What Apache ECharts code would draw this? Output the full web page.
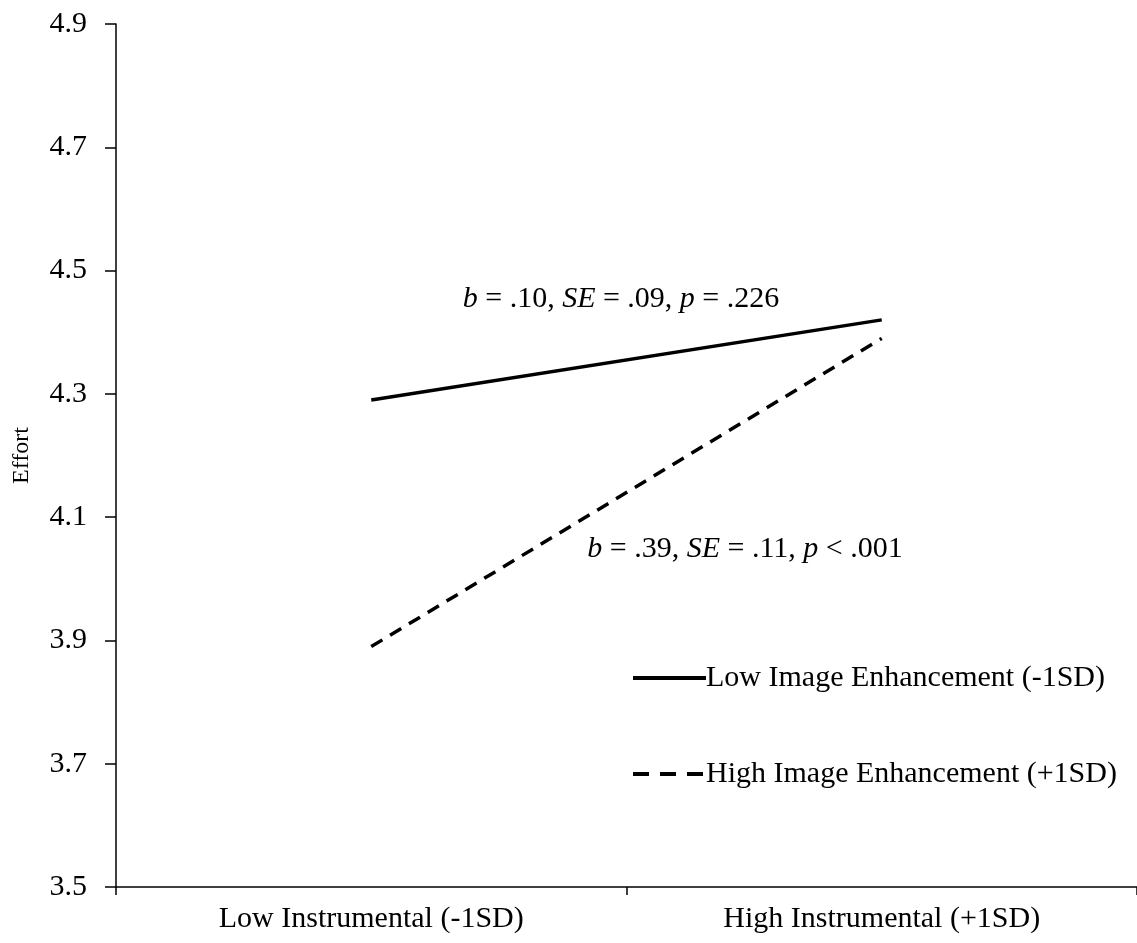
<!DOCTYPE html>
<html>
<head>
<meta charset="utf-8">
<script src="https://cdn.jsdelivr.net/npm/echarts@6/dist/echarts.min.js"></script>
<style>
  html, body { margin: 0; padding: 0; background: #fff; }
  #chart { width: 1137px; height: 943px; }
</style>
</head>
<body>
<div id="chart"></div>
<script>
// data
var categories = ['Low Instrumental (-1SD)', 'High Instrumental (+1SD)']
var lowImage = [4.29, 4.42]
var highImage = [3.89, 4.39]
var seriesNames = ['Low Image Enhancement (-1SD)', 'High Image Enhancement (+1SD)']

var FONT = '"Liberation Serif", "Times New Roman", serif'

var chart = echarts.init(document.getElementById('chart'))

var option = {
  backgroundColor: '#fff',
  animation: false,
  textStyle: { fontFamily: FONT, color: '#000' },
  grid: { left: 116, right: 0, top: 24, bottom: 56, containLabel: false },
  legend: {
    orient: 'vertical',
    left: 631,
    top: 663,
    padding: 0,
    itemWidth: 73,
    itemHeight: 14,
    itemGap: 66,
    itemStyle: { opacity: 0 },
    lineStyle: { width: 4, color: '#000' },
    textStyle: { fontFamily: FONT, fontSize: 30, color: '#000', padding: [0, 0, 0, -5] },
    data: [
      { name: seriesNames[0], lineStyle: { type: 'solid', width: 4, color: '#000' } },
      { name: seriesNames[1], lineStyle: { type: [16, 11], width: 4, color: '#000' } }
    ]
  },
  xAxis: {
    type: 'category',
    data: categories,
    boundaryGap: true,
    axisLine: { lineStyle: { color: '#000', width: 1.5 } },
    axisTick: { show: true, length: 8, lineStyle: { color: '#000', width: 1.5 } },
    axisLabel: { fontFamily: FONT, fontSize: 30, color: '#000', margin: 17 },
    splitLine: { show: false }
  },
  yAxis: {
    type: 'value',
    min: 3.5,
    max: 4.9,
    interval: 0.2,
    name: 'Effort',
    nameLocation: 'middle',
    nameGap: 82,
    nameTextStyle: { fontFamily: FONT, fontSize: 24, color: '#000' },
    axisLine: { show: true, lineStyle: { color: '#000', width: 1.5 } },
    axisTick: { show: true, length: 11, lineStyle: { color: '#000', width: 1.5 } },
    axisLabel: {
      fontFamily: FONT, fontSize: 30, color: '#000', margin: 29,
      formatter: function (v) { return v.toFixed(1) }
    },
    splitLine: { show: false }
  },
  series: [
    {
      name: seriesNames[0],
      type: 'line',
      data: lowImage,
      symbol: 'none',
      lineStyle: { color: '#000', width: 3.5, type: 'solid' },
      itemStyle: { color: '#000' }
    },
    {
      name: seriesNames[1],
      type: 'line',
      data: highImage,
      symbol: 'none',
      lineStyle: { color: '#000', width: 3.5, type: [13, 9] },
      itemStyle: { color: '#000' }
    }
  ],
  graphic: [
    {
      type: 'text',
      x: 621,
      y: 299,
      style: {
        text: '{i|b} = .10, {i|SE} = .09, {i|p} = .226',
        font: '30px ' + FONT,
        fill: '#000',
        align: 'center',
        verticalAlign: 'middle',
        rich: { i: { fontStyle: 'italic', fontFamily: FONT, fontSize: 30 } }
      }
    },
    {
      type: 'text',
      x: 745,
      y: 549,
      style: {
        text: '{i|b} = .39, {i|SE} = .11, {i|p} < .001',
        font: '30px ' + FONT,
        fill: '#000',
        align: 'center',
        verticalAlign: 'middle',
        rich: { i: { fontStyle: 'italic', fontFamily: FONT, fontSize: 30 } }
      }
    }
  ]
}

chart.setOption(option)
</script>
</body>
</html>
